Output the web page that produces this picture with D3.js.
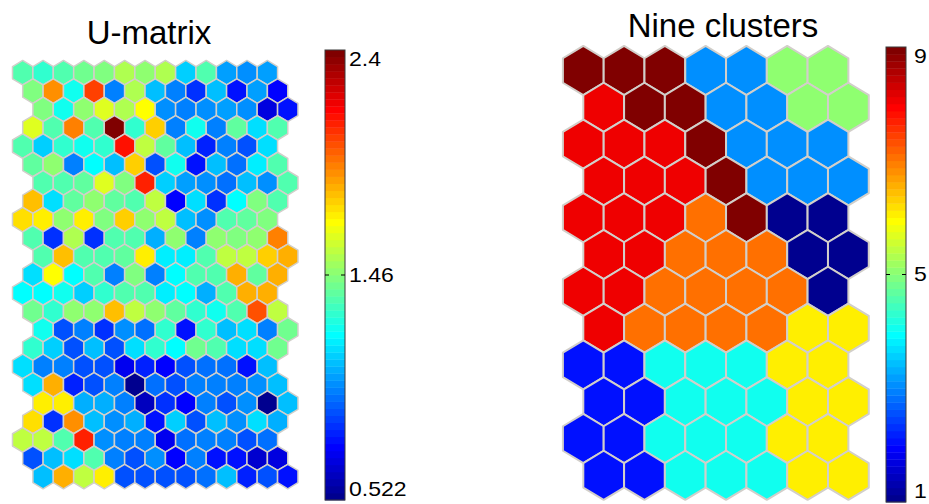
<!DOCTYPE html>
<html><head><meta charset="utf-8">
<script src="https://cdn.jsdelivr.net/npm/d3@7"></script>
<style>html,body{margin:0;padding:0;background:#fff;overflow:hidden}svg{display:block}</style>
</head><body>
<svg id="c" width="929" height="504"></svg>
<script>
// ---- data ----
const titles = ["U-matrix", "Nine clusters"];
const umatRange = [0.522, 2.4];
const umatTicks = ["2.4", "1.46", "0.522"];
const clusterRange = [1, 9];
const clusterTicks = ["9", "5", "1"];
// U-matrix values, 23 rows x 13 columns
const umatrix = [
 [1.35,1.29,1.37,1.42,1.46,1.52,1.48,1.52,1.12,1.35,1.05,1.02,1.03],
 [1.46,1.89,1.23,2.02,0.99,1.52,1.09,0.97,0.84,1.09,0.77,1.05,0.75],
 [1.46,1.24,1.48,1.61,1.52,1.67,1.02,0.99,1.02,1.05,1.02,0.67,0.76],
 [1.61,1.37,1.93,1.35,2.40,1.29,1.78,0.99,1.23,0.99,1.39,1.14,1.37],
 [1.37,1.12,1.31,1.23,1.31,2.12,1.55,1.39,1.09,0.80,0.97,0.88,1.14],
 [1.39,1.48,0.99,1.20,1.10,1.78,0.88,1.23,0.76,1.10,0.94,1.18,1.37],
 [1.37,1.37,1.39,1.61,1.46,2.08,1.12,1.05,1.02,0.94,1.09,1.02,1.35],
 [1.80,1.14,1.39,1.48,1.39,1.37,1.55,0.73,1.16,0.84,1.22,1.46,1.37],
 [1.74,1.72,1.48,1.70,1.46,1.78,1.48,1.57,1.10,1.02,1.37,1.39,1.46],
 [1.37,0.84,1.52,0.84,1.37,1.37,1.07,1.48,0.99,1.48,1.46,1.48,1.93],
 [1.37,1.80,1.37,1.37,1.39,1.70,1.18,1.18,1.35,1.57,1.57,1.78,1.84],
 [1.14,1.67,1.20,1.35,0.99,1.46,0.99,1.20,1.35,1.37,1.82,1.39,1.84],
 [1.20,1.22,1.23,1.12,1.31,1.35,1.37,1.18,1.22,1.07,1.35,1.82,1.82],
 [1.42,1.31,1.48,1.48,1.80,1.55,1.48,1.39,1.29,1.23,1.37,1.99,1.57],
 [1.24,0.88,0.99,0.84,1.02,0.94,1.29,0.77,1.29,1.09,1.14,0.99,1.42],
 [1.31,1.12,0.90,1.10,0.88,1.14,1.31,1.22,1.42,1.35,1.14,1.16,1.42],
 [1.16,0.97,0.99,0.90,0.90,0.71,0.80,0.73,0.90,0.94,0.94,0.77,1.09],
 [1.14,1.84,0.80,0.90,0.97,0.54,0.94,0.88,0.99,0.99,0.97,1.02,1.10],
 [1.70,1.71,1.07,1.07,0.99,0.635,0.84,0.75,0.97,0.90,1.02,0.522,1.09],
 [1.74,0.84,1.89,1.09,1.02,1.07,0.77,1.12,0.90,1.10,1.02,1.14,1.07],
 [1.57,1.57,1.37,2.08,1.02,0.99,0.97,0.71,0.94,0.99,0.97,0.90,0.94],
 [0.88,1.10,1.14,1.37,0.99,0.88,1.02,0.75,0.99,0.77,0.77,0.64,0.67],
 [1.10,1.84,1.57,1.72,0.90,0.88,0.90,0.88,0.94,1.10,0.80,0.88,0.76]
];
// cluster labels, 12 rows x 7 columns
const clusters = [
 [9,9,9,3,3,5,5],
 [8,9,9,3,3,5,5],
 [8,8,8,9,3,3,3],
 [8,8,8,9,3,3,3],
 [8,8,8,7,9,1,1],
 [8,8,7,7,7,1,1],
 [8,8,7,7,7,7,1],
 [8,7,7,7,7,6,6],
 [2,2,4,4,4,6,6],
 [2,2,4,4,4,6,6],
 [2,2,4,4,4,6,6],
 [2,2,4,4,4,6,6]
];

// ---- MATLAB jet(64) ----
function jet64() {
  const out = [];
  for (let k = 1; k <= 64; k++) {
    let r = 0, g = 0, b = 0;
    if (k <= 8) b = 0.5 + k / 16;
    else if (k <= 24) { b = 1; g = (k - 8) / 16; }
    else if (k <= 40) { g = 1; r = (k - 24) / 16; b = 1 - (k - 24) / 16; }
    else if (k <= 56) { r = 1; g = 1 - (k - 40) / 16; }
    else r = 1 - (k - 56) / 16;
    out.push(d3.rgb(r * 255, g * 255, b * 255).formatHex());
  }
  return out;
}
const jet = jet64();

const svg = d3.select("#c");
const edge = "#d2cfca";

function hexPath(w, R) {
  const h = w / 2;
  return `M0,${-R}L${h},${-R/2}L${h},${R/2}L0,${R}L${-h},${R/2}L${-h},${-R/2}Z`;
}

// ---- U-matrix panel ----
{
  const nR = umatrix.length;
  const x = d3.scaleLinear().domain([0, 13]).range([22.7, 22.7 + 13 * 20.39]);
  const y = d3.scaleLinear().domain([0, nR - 1]).range([72.7, 476.6]);
  const w = x(1) - x(0), R = (y(1) - y(0)) / 1.5;
  const col = d3.scaleQuantize().domain(umatRange).range(jet);
  const off = [0, 0.5, 1, 0.5];
  const cells = [];
  umatrix.forEach((row, r) => row.forEach((v, c) => cells.push({ r, c, v })));
  svg.append("g").selectAll("path").data(cells).join("path")
    .attr("d", hexPath(w, R))
    .attr("transform", d => `translate(${x(d.c + off[d.r % 4])},${y(d.r)})`)
    .attr("fill", d => col(d.v))
    .attr("stroke", edge).attr("stroke-width", 1.5).attr("stroke-linejoin", "round");
  svg.append("text").attr("x", 149).attr("y", 44).attr("text-anchor", "middle")
    .attr("font-family", "Liberation Sans, Arial, sans-serif").attr("font-size", 33)
    .text(titles[0]);
}

// ---- Clusters panel ----
{
  const nR = clusters.length;
  const x = d3.scaleLinear().domain([0, 6]).range([583.3, 583.3 + 6 * 40.78]);
  const y = d3.scaleLinear().domain([0, nR - 1]).range([70.5, 475.3]);
  const w = x(1) - x(0), R = (y(1) - y(0)) / 1.5;
  const col = d3.scaleQuantize().domain(clusterRange).range(jet);
  const cells = [];
  clusters.forEach((row, r) => row.forEach((v, c) => cells.push({ r, c, v })));
  svg.append("g").selectAll("path").data(cells).join("path")
    .attr("d", hexPath(w, R))
    .attr("transform", d => `translate(${x(d.c + (d.r % 2) * 0.5)},${y(d.r)})`)
    .attr("fill", d => col(d.v))
    .attr("stroke", edge).attr("stroke-width", 2).attr("stroke-linejoin", "round");
  svg.append("text").attr("x", 723).attr("y", 37).attr("text-anchor", "middle")
    .attr("font-family", "Liberation Sans, Arial, sans-serif").attr("font-size", 33)
    .text(titles[1]);
}

// ---- colorbars ----
function colorbar(x0, top, bottom, range, ticks, tx, fs) {
  const g = svg.append("g");
  const bw = 20;
  const yS = d3.scaleLinear().domain(range).range([bottom, top]);
  const step = (range[1] - range[0]) / 64;
  g.selectAll("rect.band").data(jet).join("rect").attr("class", "band")
    .attr("x", x0).attr("width", bw)
    .attr("y", (d, i) => yS(range[0] + (i + 1) * step))
    .attr("height", (d, i) => yS(range[0] + i * step) - yS(range[0] + (i + 1) * step) + 0.4)
    .attr("fill", d => d);
  g.append("rect").attr("x", x0).attr("y", top).attr("width", bw).attr("height", bottom - top)
    .attr("fill", "none").attr("stroke", "#3a3a3a").attr("stroke-width", 1);
  const mid = (range[0] + range[1]) / 2;
  g.append("line").attr("x1", x0).attr("x2", x0 + 4).attr("y1", yS(mid)).attr("y2", yS(mid)).attr("stroke", "#000");
  g.append("line").attr("x1", x0 + bw - 4).attr("x2", x0 + bw).attr("y1", yS(mid)).attr("y2", yS(mid)).attr("stroke", "#000");
  const ys = [top, yS(mid), bottom];
  const base = ["hanging", "central", "alphabetic"];
  const dy = [1, 0, -4];
  ticks.forEach((t, i) => {
    g.append("text").attr("transform", `translate(${tx},${ys[i] + dy[i]}) scale(1.15,1)`)
      .attr("dominant-baseline", base[i])
      .attr("font-family", "Liberation Sans, Arial, sans-serif").attr("font-size", fs)
      .attr("fill", "#000").text(t);
  });
}
colorbar(325, 50, 500, umatRange, umatTicks, 349, 20);
colorbar(886, 47, 502, clusterRange, clusterTicks, 914, 20);
</script>
</body></html>
